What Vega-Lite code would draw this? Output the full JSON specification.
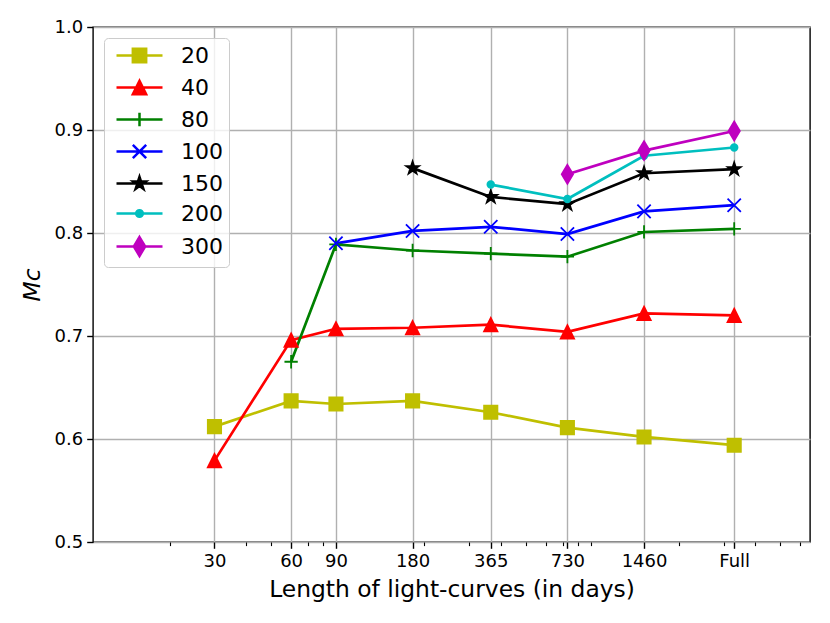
{
  "$schema": "https://vega.github.io/schema/vega-lite/v6.json",
  "width": 717,
  "height": 515,
  "autosize": {"type": "none"},
  "padding": {"left": 93, "top": 27, "right": 20, "bottom": 81},
  "background": "white",
  "config": {
    "view": {"stroke": "#000", "strokeWidth": 1.4},
    "font": "DejaVu Sans"
  },
  "data": {
    "values": [
      {"n": "20", "x": 30, "y": 0.612}, {"n": "20", "x": 60, "y": 0.637}, {"n": "20", "x": 90, "y": 0.634}, {"n": "20", "x": 180, "y": 0.637},
      {"n": "20", "x": 365, "y": 0.626}, {"n": "20", "x": 730, "y": 0.611}, {"n": "20", "x": 1460, "y": 0.602}, {"n": "20", "x": 3300, "y": 0.594},
      {"n": "40", "x": 30, "y": 0.579}, {"n": "40", "x": 60, "y": 0.696}, {"n": "40", "x": 90, "y": 0.707}, {"n": "40", "x": 180, "y": 0.708},
      {"n": "40", "x": 365, "y": 0.711}, {"n": "40", "x": 730, "y": 0.704}, {"n": "40", "x": 1460, "y": 0.722}, {"n": "40", "x": 3300, "y": 0.720},
      {"n": "80", "x": 60, "y": 0.675}, {"n": "80", "x": 90, "y": 0.789}, {"n": "80", "x": 180, "y": 0.783}, {"n": "80", "x": 365, "y": 0.780},
      {"n": "80", "x": 730, "y": 0.777}, {"n": "80", "x": 1460, "y": 0.801}, {"n": "80", "x": 3300, "y": 0.804},
      {"n": "100", "x": 90, "y": 0.790}, {"n": "100", "x": 180, "y": 0.802}, {"n": "100", "x": 365, "y": 0.806}, {"n": "100", "x": 730, "y": 0.799},
      {"n": "100", "x": 1460, "y": 0.821}, {"n": "100", "x": 3300, "y": 0.827},
      {"n": "150", "x": 180, "y": 0.863}, {"n": "150", "x": 365, "y": 0.835}, {"n": "150", "x": 730, "y": 0.828}, {"n": "150", "x": 1460, "y": 0.858}, {"n": "150", "x": 3300, "y": 0.862},
      {"n": "200", "x": 365, "y": 0.847}, {"n": "200", "x": 730, "y": 0.833}, {"n": "200", "x": 1460, "y": 0.875}, {"n": "200", "x": 3300, "y": 0.883},
      {"n": "300", "x": 730, "y": 0.857}, {"n": "300", "x": 1460, "y": 0.880}, {"n": "300", "x": 3300, "y": 0.899}
    ]
  },
  "resolve": {
    "axis": {"x": "independent"},
    "scale": {"color": "independent", "fill": "independent", "stroke": "independent", "shape": "independent"}
  },
  "layer": [
    {
      "mark": {"type": "point", "opacity": 0},
      "encoding": {
        "x": {"field": "x", "type": "quantitative", "scale": {"type": "log", "domain": [10, 6550], "nice": false},
          "axis": {"orient": "bottom", "values": [20, 40, 50, 70, 80, 200, 300, 400, 500, 600, 700, 800, 900, 2000, 3000, 4000, 5000, 6000],
            "labels": false, "grid": false, "domain": false, "title": null, "tickSize": 3.6, "tickWidth": 1.1, "tickColor": "#000"}},
        "y": {"field": "y", "type": "quantitative"}
      }
    },
    {
      "mark": {"type": "line", "strokeWidth": 2.7},
      "encoding": {
        "x": {"field": "x", "type": "quantitative", "scale": {"type": "log", "domain": [10, 6550], "nice": false},
          "axis": {"orient": "bottom", "values": [30, 60, 90, 180, 365, 730, 1460, 3300],
            "labelExpr": "datum.value > 3000 ? 'Full' : '' + datum.value",
            "title": "Length of light-curves (in days)", "grid": true, "gridColor": "#b0b0b0", "gridWidth": 1.4,
            "domain": false, "tickColor": "#000", "tickSize": 6.3, "tickWidth": 1.4,
            "labelFont": "DejaVu Sans", "labelFontSize": 18, "labelColor": "#000", "labelPadding": 4, "labelFlush": false, "labelOverlap": false,
            "titleFont": "DejaVu Sans", "titleFontSize": 23.4, "titleFontWeight": "normal", "titleColor": "#000", "titlePadding": 8}},
        "y": {"field": "y", "type": "quantitative", "scale": {"domain": [0.5, 1.0], "nice": false, "zero": false},
          "axis": {"values": [0.5, 0.6, 0.7, 0.8, 0.9, 1.0], "format": ".1f", "title": "Mc",
            "grid": true, "gridColor": "#b0b0b0", "gridWidth": 1.4,
            "domain": false, "tickColor": "#000", "tickSize": 6.3, "tickWidth": 1.4,
            "labelFont": "DejaVu Sans", "labelFontSize": 18, "labelColor": "#000", "labelPadding": 4,
            "titleFont": "DejaVu Sans", "titleFontSize": 23.4, "titleFontWeight": "normal", "titleFontStyle": "italic", "titleColor": "#000", "titlePadding": 10}},
        "color": {"field": "n", "type": "nominal",
          "scale": {"domain": ["20", "40", "80", "100", "150", "200", "300"], "range": ["#bfbf00", "#ff0000", "#008000", "#0000ff", "#000000", "#00bfbf", "#bf00bf"]},
          "legend": null}
      }
    },
    {
      "mark": {"type": "point", "filled": true, "opacity": 1, "size": 177, "strokeWidth": 1.8},
      "encoding": {
        "x": {"field": "x", "type": "quantitative", "scale": {"type": "log", "domain": [10, 6550], "nice": false}, "axis": null},
        "y": {"field": "y", "type": "quantitative"},
        "color": {"field": "n", "type": "nominal",
          "scale": {"domain": ["20", "40", "80", "100", "150", "200", "300"], "range": ["#bfbf00", "#ff0000", "#008000", "#0000ff", "#000000", "#00bfbf", "#bf00bf"]},
          "legend": null},
        "stroke": {"field": "n", "type": "nominal",
          "scale": {"domain": ["20", "40", "80", "100", "150", "200", "300"], "range": ["#bfbf00", "#ff0000", "#008000", "#0000ff", "#000000", "#00bfbf", "#bf00bf"]},
          "legend": null},
        "shape": {"field": "n", "type": "nominal",
          "scale": {"domain": ["20", "40", "80", "100", "150", "200", "300"],
            "range": ["M-1,-1H1V1H-1Z", "M0,-1L1,1H-1Z", "M-1,0H1M0,-1V1", "M-1,-1L1,1M-1,1L1,-1",
              "M0,-1L0.2245,-0.309L0.9511,-0.309L0.3633,0.118L0.5878,0.809L0,0.382L-0.5878,0.809L-0.3633,0.118L-0.9511,-0.309L-0.2245,-0.309Z",
              "M0.5,0A0.5,0.5,0,1,1,-0.5,0A0.5,0.5,0,1,1,0.5,0", "M0,-1.42L0.85,0L0,1.42L-0.85,0Z"]},
          "legend": null}
      }
    },
    {
      "transform": [{"filter": "datum.x < 0"}],
      "mark": {"type": "point", "filled": true, "opacity": 1, "size": 400},
      "encoding": {
        "x": {"field": "x", "type": "quantitative", "scale": {"type": "log", "domain": [10, 6550], "nice": false}, "axis": null},
        "y": {"field": "y", "type": "quantitative"},
        "fill": {"field": "n", "type": "nominal",
          "scale": {"domain": ["20", "40", "80", "100", "150", "200", "300"], "range": ["#bfbf00", "#ff0000", "#008000", "#0000ff", "#000000", "#00bfbf", "#bf00bf"]},
          "legend": {"orient": "none", "legendX": 11, "legendY": 11, "title": null,
            "symbolSize": 400, "symbolStrokeWidth": 2.5, "symbolOpacity": 1, "symbolOffset": 18,
            "labelFont": "DejaVu Sans", "labelFontSize": 22, "labelColor": "#000",
            "labelOffset": 30, "rowPadding": 7, "padding": 6, "strokeColor": "#cccccc", "fillColor": "rgba(255,255,255,0.8)", "cornerRadius": 4}},
        "stroke": {"field": "n", "type": "nominal",
          "scale": {"domain": ["20", "40", "80", "100", "150", "200", "300"], "range": ["#bfbf00", "#ff0000", "#008000", "#0000ff", "#000000", "#00bfbf", "#bf00bf"]}},
        "shape": {"field": "n", "type": "nominal",
          "scale": {"domain": ["20", "40", "80", "100", "150", "200", "300"],
            "range": ["M-2.3,0H2.3M-0.667,-0.667H0.667V0.667H-0.667Z", "M-2.3,0H2.3M0,-0.667L0.667,0.667H-0.667Z", "M-2.3,0H2.3M0,-0.667V0.667",
              "M-2.3,0H2.3M-0.667,-0.667L0.667,0.667M-0.667,0.667L0.667,-0.667",
              "M-2.3,0H2.3M0,-0.667L0.15,-0.206L0.634,-0.206L0.242,0.079L0.392,0.539L0,0.255L-0.392,0.539L-0.242,0.079L-0.634,-0.206L-0.15,-0.206Z",
              "M-2.3,0H2.3M0.335,0A0.335,0.335,0,1,1,-0.335,0A0.335,0.335,0,1,1,0.335,0", "M-2.3,0H2.3M0,-0.945L0.567,0L0,0.945L-0.567,0Z"]}}
      }
    }
  ]
}
